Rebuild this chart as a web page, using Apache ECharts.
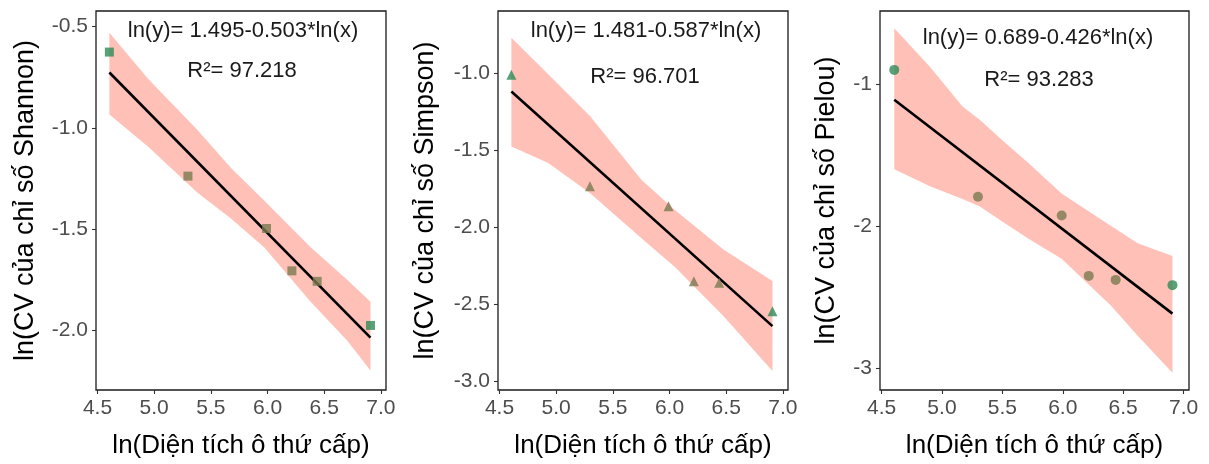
<!DOCTYPE html>
<html><head><meta charset="utf-8">
<script src="https://cdn.jsdelivr.net/npm/echarts@6/dist/echarts.min.js"></script>
<style>html,body{margin:0;padding:0;background:#fff}#c{width:1209px;height:464px}</style>
</head><body><div id="c"></div>
<script>
// ---- data ----
const xTicks = [4.5, 5.0, 5.5, 6.0, 6.5, 7.0];
const xVals = [4.605, 5.298, 5.991, 6.215, 6.438, 6.908];

const shannonY = [-0.626, -1.239, -1.498, -1.707, -1.759, -1.977];
const simpsonY = [-1.010, -1.735, -1.865, -2.351, -2.362, -2.546];
const pielouY  = [-0.902, -1.794, -1.925, -2.350, -2.378, -2.415];

const lineX = [4.605, 6.908];
const shannonLine = [-0.727, -2.037];
const simpsonLine = [-1.119, -2.643];
const pielouLine  = [-1.112, -2.615];

const shannonBandX = [4.605, 4.95, 5.38, 5.68, 5.97, 6.38, 6.70, 6.908];
const shannonUpper = [-0.53, -0.76, -1.01, -1.20, -1.36, -1.59, -1.75, -1.86];
const shannonLower = [-0.935, -1.095, -1.32, -1.45, -1.59, -1.86, -2.05, -2.20];

const simpsonBandX = [4.605, 4.93, 5.30, 5.75, 6.05, 6.475, 6.908];
const simpsonUpper = [-0.77, -1.007, -1.28, -1.69, -1.89, -2.146, -2.35];
const simpsonLower = [-1.476, -1.584, -1.78, -2.07, -2.26, -2.578, -2.935];

const pielouBandX = [4.605, 4.90, 5.17, 5.31, 5.53, 5.72, 5.99, 6.40, 6.62, 6.908];
const pielouUpper = [-0.61, -0.88, -1.16, -1.25, -1.42, -1.56, -1.77, -2.00, -2.12, -2.21];
const pielouLower = [-1.60, -1.72, -1.81, -1.86, -1.985, -2.09, -2.23, -2.56, -2.77, -3.03];

const shannonTicks = [-0.5, -1.0, -1.5, -2.0];
const simpsonTicks = [-1.0, -1.5, -2.0, -2.5, -3.0];
const pielouTicks  = [-1, -2, -3];

const yTitles = ['ln(CV của chỉ số Shannon)', 'ln(CV của chỉ số Simpson)', 'ln(CV của chỉ số Pielou)'];
const xTitle = 'ln(Diện tích ô thứ cấp)';
const equations = ['ln(y)= 1.495-0.503*ln(x)', 'ln(y)= 1.481-0.587*ln(x)', 'ln(y)= 0.689-0.426*ln(x)'];
const r2Texts = ['R²= 97.218', 'R²= 96.701', 'R²= 93.283'];

// ---- layout/style ----
const FONT = 'Liberation Sans, Arial, sans-serif';
const grids = [
  {left: 96, top: 11, width: 290, height: 380},
  {left: 498, top: 11, width: 290, height: 380},
  {left: 880, top: 11, width: 309, height: 380}
];
const yRanges = [[-2.296, -0.423], [-3.058, -0.596], [-3.152, -0.488]];
const xRange = [4.487, 7.045];
const yDecimals = [1, 1, 0];
const yNameGaps = [57, 59, 40];
const panels = [
  {y: shannonY, line: shannonLine, bx: shannonBandX, up: shannonUpper, lo: shannonLower, ticks: shannonTicks, symbol: 'rect', size: 9},
  {y: simpsonY, line: simpsonLine, bx: simpsonBandX, up: simpsonUpper, lo: simpsonLower, ticks: simpsonTicks, symbol: 'triangle', size: 10},
  {y: pielouY, line: pielouLine, bx: pielouBandX, up: pielouUpper, lo: pielouLower, ticks: pielouTicks, symbol: 'circle', size: 10}
];
const annPos = [[[243, 31], [242, 71]], [[646, 31], [645, 77]], [[1038, 38], [1039, 80]]];
const ptColors = ['#2f8a55', '#7b7950', '#7b7950', '#7b7950', '#7b7950', '#2f8a55'];

const gridOpt = [], xAxes = [], yAxes = [], series = [], graphics = [];
panels.forEach((p, i) => {
  gridOpt.push(Object.assign({show: true, borderColor: '#1a1a1a', borderWidth: 1.3, backgroundColor: '#fff'}, grids[i]));
  xAxes.push({
    type: 'value', gridIndex: i, min: xRange[0], max: xRange[1],
    name: xTitle, nameLocation: 'middle', nameGap: 43,
    nameTextStyle: {fontFamily: FONT, fontSize: 26, color: '#000'},
    axisLine: {show: false}, splitLine: {show: false},
    axisTick: {show: true, length: 4, customValues: xTicks, lineStyle: {color: '#333', width: 1.1}},
    axisLabel: {customValues: xTicks, margin: 8, fontFamily: FONT, fontSize: 21, color: '#4d4d4d',
      formatter: v => v.toFixed(1)}
  });
  yAxes.push({
    type: 'value', gridIndex: i, min: yRanges[i][0], max: yRanges[i][1],
    name: yTitles[i], nameLocation: 'middle', nameGap: yNameGaps[i], nameRotate: 90,
    nameTextStyle: {fontFamily: FONT, fontSize: 27, color: '#000'},
    axisLine: {show: false}, splitLine: {show: false},
    axisTick: {show: true, length: 4, customValues: p.ticks, lineStyle: {color: '#333', width: 1.1}},
    axisLabel: {customValues: p.ticks, margin: 8, fontFamily: FONT, fontSize: 21, color: '#4d4d4d',
      formatter: v => v.toFixed(yDecimals[i])}
  });
  const bx = p.bx, up = p.up, lo = p.lo;
  series.push({
    type: 'custom', xAxisIndex: i, yAxisIndex: i, silent: true, z: 1, clip: true,
    data: [[bx[0], up[0]]],
    renderItem: function (params, api) {
      const pts = [];
      for (let k = 0; k < bx.length; k++) pts.push(api.coord([bx[k], up[k]]));
      for (let k = bx.length - 1; k >= 0; k--) pts.push(api.coord([bx[k], lo[k]]));
      return {type: 'polygon', shape: {points: pts}, style: {fill: '#ffc1b7'}};
    }
  });
  series.push({
    type: 'line', xAxisIndex: i, yAxisIndex: i, z: 3, symbol: 'none', silent: true,
    data: lineX.map((x, k) => [x, p.line[k]]),
    lineStyle: {color: '#000', width: 2.6}
  });
  series.push({
    type: 'scatter', xAxisIndex: i, yAxisIndex: i, z: 4, symbol: p.symbol, symbolSize: p.size, silent: true,
    data: xVals.map((x, k) => ({value: [x, p.y[k]], itemStyle: {color: ptColors[k]}}))
  });
  graphics.push({type: 'text', x: annPos[i][0][0], y: annPos[i][0][1], z: 10,
    style: {text: equations[i], fill: '#1a1a1a', fontSize: 22, fontFamily: FONT, align: 'center', verticalAlign: 'middle', textAlign: 'center', textVerticalAlign: 'middle'}});
  graphics.push({type: 'text', x: annPos[i][1][0], y: annPos[i][1][1], z: 10,
    style: {text: r2Texts[i], fill: '#1a1a1a', fontSize: 22, fontFamily: FONT, align: 'center', verticalAlign: 'middle', textAlign: 'center', textVerticalAlign: 'middle'}});
});

const chart = echarts.init(document.getElementById('c'), null, {renderer: 'canvas'});
chart.setOption({
  animation: false,
  backgroundColor: '#fff',
  grid: gridOpt, xAxis: xAxes, yAxis: yAxes, series: series, graphic: graphics
});
</script></body></html>
